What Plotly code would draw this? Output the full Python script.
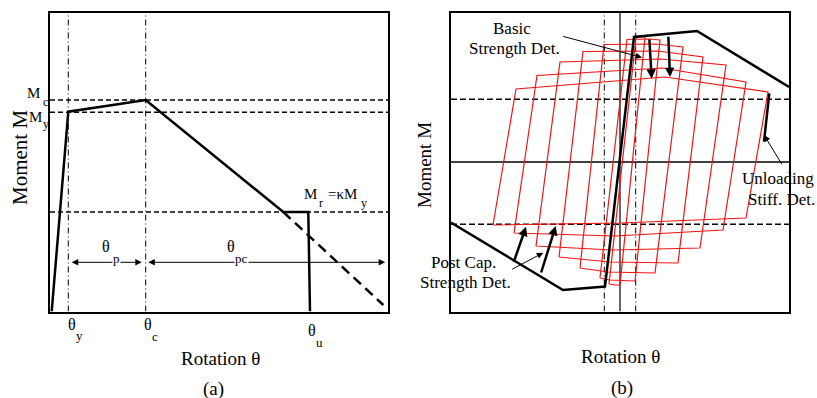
import plotly.graph_objects as go

W, H = 817, 398
FONT = "Liberation Serif"

# ---------------- Panel (a): monotonic backbone ----------------
a_theta = [1.7, 18.3, 95.7, 233.3, 258.3, 260.0]
a_M = [0.0, 199.8, 211.5, 99.5, 99.5, 0.0]
a_ext_theta = [233.3, 333.3]
a_ext_M = [99.5, 6.5]
a_M_levels = [211.5, 199.2, 99.5]          # Mc, My, Mr
a_theta_marks = [18.3, 95.7]               # theta_y, theta_c
a_xrange = [0, 338]
a_yrange = [0, 298.5]
a_span_M = 49.2
theta_p_span = [21.7, 93.3]
theta_pc_span = [98.3, 336.7]

# ---------------- Panel (b): cyclic response ----------------
# each loop: BL, TL, peak, TR, BR, trough, BL
loops_theta = [
    [-127, -104, 45, 148, 126, 0, -127],
    [-106, -83, 42, 126, 103, -5, -106],
    [-84, -60, 40, 106, 80, -8, -84],
    [-61, -37, 38, 83, 58, -10, -61],
    [-40, -16, 36, 63, 35, -12, -40],
    [-20, 7, 30, 40, 15, -10, -20],
    [-11, 16, 20, 25, 0, -5, -11],
]
loops_M = [
    [-63, 73, 85, 70, -56, -61, -63],
    [-71, 86.5, 94, 80, -68, -74, -71],
    [-84, 100, 103, 97, -86, -88, -84],
    [-95, 110.5, 111, 105, -101, -100, -95],
    [-106, 117.5, 118, 115, -111, -110, -106],
    [-116, 122.5, 123, 122, -119, -118, -116],
    [-122, 124.5, 125, 125, -123, -123, -122],
]
b_backbone_theta = [-169, -57, -15, 14, 77, 169]
b_backbone_M = [-60.5, -128, -124.5, 125, 131, 75]
b_M_levels = [62.7, -62.3]
b_theta_marks = [-15.7, 15.7]
b_xrange = [-169, 169]
b_yrange = [-149.5, 149]
b_unload_theta = [149.3, 144]
b_unload_M = [68.7, 20.3]
# arrows: (tail theta, tail M, head theta, head M, width)
b_arrows = [
    (-58.3, 126, 22, 104.5, 1.0),
    (29.3, 124, 31.7, 83.3, 2.5),
    (48.3, 126.7, 50, 85, 2.5),
    (162.7, -3.7, 144, 27, 1.0),
    (-109.3, -108, -76.7, -90.7, 1.0),
    (-106.7, -101.3, -94, -64.7, 2.5),
    (-79.3, -112, -64.3, -64, 2.5),
]

fig = go.Figure()

def line(x, y, xa, ya, width=1.0, dash="solid", color="black"):
    fig.add_trace(go.Scatter(x=x, y=y, mode="lines", xaxis=xa, yaxis=ya,
                             line=dict(color=color, width=width, dash=dash),
                             hoverinfo="skip", showlegend=False))

# panel (a)
for m in a_M_levels:
    line(a_xrange, [m, m], "x", "y", 1.4, "5px,3px")
for t in a_theta_marks:
    line([t, t], a_yrange, "x", "y", 1.0, "6px,3px,1px,3px")
line(a_theta, a_M, "x", "y", 2.5)
line(a_ext_theta, a_ext_M, "x", "y", 2.5, "10px,6px")

# panel (b)
line(b_xrange, [0, 0], "x2", "y2", 1.5)
line([0, 0], b_yrange, "x2", "y2", 1.5, color="#333")
for m in b_M_levels:
    line(b_xrange, [m, m], "x2", "y2", 1.4, "6px,3px")
for t in b_theta_marks:
    line([t, t], b_yrange, "x2", "y2", 1.0, "6px,3px,1px,3px")
for lt, lm in zip(loops_theta, loops_M):
    line(lt, lm, "x2", "y2", 1.2, color="#f01414")
line(b_backbone_theta, b_backbone_M, "x2", "y2", 2.5)
line(b_unload_theta, b_unload_M, "x2", "y2", 2.5)

ann = []

def arrow(tx, tm, hx, hm, w, xr, yr, both=False):
    ann.append(dict(x=hx, y=hm, ax=tx, ay=tm, xref=xr, yref=yr, axref=xr, ayref=yr,
                    text="", showarrow=True, arrowhead=2,
                    arrowsize=(0.75 if w > 2 else 1.3), arrowwidth=w,
                    arrowcolor="black", standoff=0, startstandoff=0,
                    arrowside=("end+start" if both else "end"), startarrowhead=2,
                    startarrowsize=1.3))

arrow(theta_p_span[1], a_span_M, theta_p_span[0], a_span_M, 1.0, "x", "y", both=True)
arrow(theta_pc_span[1], a_span_M, theta_pc_span[0], a_span_M, 1.0, "x", "y", both=True)
for tx, tm, hx, hm, w in b_arrows:
    arrow(tx, tm, hx, hm, w, "x2", "y2")

def txt(s, px, py, size, xanchor="center", angle=0, bg=None):
    d = dict(text=s, x=px / W, y=1 - py / H, xref="paper", yref="paper",
             showarrow=False, xanchor=xanchor, yanchor="middle", textangle=angle,
             font=dict(family=FONT, size=size, color="black"))
    if bg:
        d["bgcolor"] = bg
        d["borderpad"] = 0
    ann.append(d)

# panel (a) texts
txt("M", 33, 93, 15); txt("c", 45, 102, 12)
txt("M", 35, 117.5, 15); txt("y", 45.5, 124, 12)
txt("Moment M", 20, 158, 21, angle=-90)
txt("M", 310.5, 194, 15); txt("r", 320.5, 203, 12)
txt("=κM", 342.5, 194, 15); txt("y", 363.5, 203, 12)
txt("θ", 106, 246, 16); txt("p", 116, 258, 13, bg="white")
txt("θ", 231, 246, 16); txt("pc", 241.5, 258, 13, bg="white")
txt("θ", 71.7, 324, 16); txt("y", 79, 335, 13)
txt("θ", 148, 324, 16); txt("c", 154.5, 336, 13)
txt("θ", 311.7, 330, 16); txt("u", 319, 342.5, 13)
txt("Rotation θ", 220, 358, 19)
txt("(a)", 213.3, 389, 19)

# panel (b) texts
txt("Basic", 511.7, 28.3, 17)
txt("Strength Det.", 514, 48.3, 17)
txt("Unloading", 816, 178.3, 17, xanchor="right")
txt("Stiff. Det.", 746, 199.3, 17, xanchor="left")
txt("Post Cap.", 463.7, 262, 17)
txt("Strength Det.", 465, 282, 17)
txt("Moment M", 425, 165, 19, angle=-90)
txt("Rotation θ", 620, 356.7, 19)
txt("(b)", 621.7, 388.3, 19)

ydom = [1 - 311.5 / H, 1 - 13 / H]
ax_common = dict(showgrid=False, zeroline=False, showticklabels=False, ticks="",
                 showline=True, mirror=True, linecolor="black", linewidth=2)
fig.update_layout(
    width=W, height=H, margin=dict(l=0, r=0, t=0, b=0),
    paper_bgcolor="white", plot_bgcolor="white", showlegend=False,
    xaxis=dict(domain=[50 / W, 388 / W], range=a_xrange, anchor="y", **ax_common),
    yaxis=dict(domain=ydom, range=a_yrange, anchor="x", **ax_common),
    xaxis2=dict(domain=[451 / W, 789 / W], range=b_xrange, anchor="y2", **ax_common),
    yaxis2=dict(domain=ydom, range=b_yrange, anchor="x2", **ax_common),
    annotations=ann,
)
fig.write_html("out.html")
